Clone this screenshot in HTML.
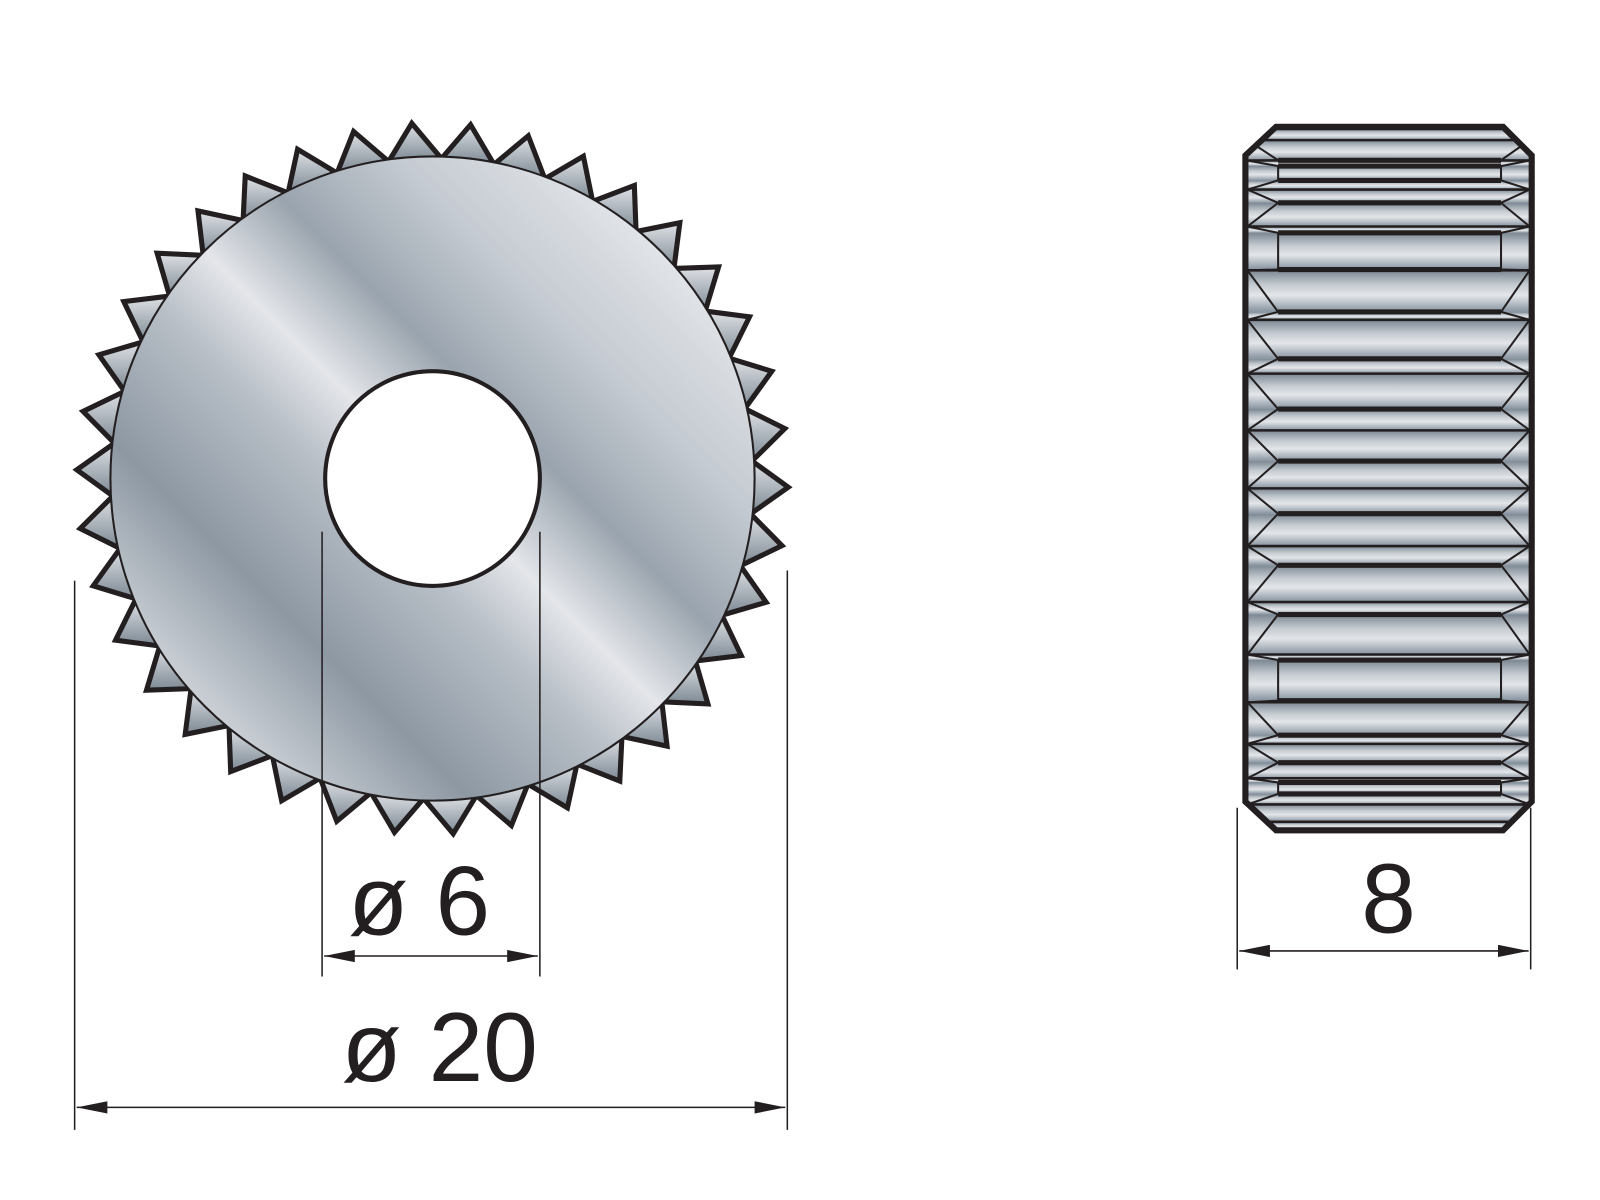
<!DOCTYPE html>
<html><head><meta charset="utf-8"><style>
html,body{margin:0;padding:0;background:#fff;}
svg{display:block}
text{font-family:"Liberation Sans",sans-serif;fill:#231f20}
</style></head><body>
<svg id="s" width="1600" height="1200" viewBox="0 0 1600 1200" xmlns="http://www.w3.org/2000/svg">
<defs>
<linearGradient id="met" x1="0" y1="1" x2="1" y2="0">
<stop offset="0" stop-color="#7f8b96"/>
<stop offset="0.15" stop-color="#c9ced4"/>
<stop offset="0.28" stop-color="#8d98a3"/>
<stop offset="0.42" stop-color="#b7bec6"/>
<stop offset="0.5" stop-color="#e4e6ea"/>
<stop offset="0.6" stop-color="#9aa4ae"/>
<stop offset="0.72" stop-color="#c4cad1"/>
<stop offset="0.85" stop-color="#e0e3e7"/>
<stop offset="1" stop-color="#8a959f"/>
</linearGradient>
<linearGradient id="tooth" x1="0" y1="0" x2="0" y2="1">
<stop offset="0" stop-color="#dfe2e6"/><stop offset="1" stop-color="#7c8893"/>
</linearGradient>
<linearGradient id="band" x1="0" y1="0" x2="0" y2="1">
<stop offset="0" stop-color="#7b8792"/><stop offset="0.35" stop-color="#c5cbd1"/>
<stop offset="0.6" stop-color="#e3e6e9"/><stop offset="1" stop-color="#8793a0"/>
</linearGradient>
<marker id="ar" viewBox="0 0 30 12" refX="30" refY="6" markerWidth="30" markerHeight="12" markerUnits="userSpaceOnUse" orient="auto-start-reverse"><path d="M0,0 L30,6 L0,12 z" fill="#231f20"/></marker>
<clipPath id="oc"><path d="M1248,124 L1470,124 L1498,152 L1498,784 L1470,812 L1248,812 L1218,784 L1218,152 Z"/></clipPath>
</defs>
<g transform="scale(1.0225)">
<g id="gear"></g>
<g id="side" clip-path="url(#oc)"></g>
<path d="M1248,124 L1470,124 L1498,152 L1498,784 L1470,812 L1248,812 L1218,784 L1218,152 Z" fill="none" stroke="#231f20" stroke-width="6"/>
<g stroke="#231f20" stroke-width="1.5" fill="none">
<line x1="315" y1="520" x2="315" y2="955"/>
<line x1="528" y1="520" x2="528" y2="955"/>
<line x1="73" y1="568" x2="73" y2="1105"/>
<line x1="770" y1="558" x2="770" y2="1105"/>
<line x1="1210" y1="790" x2="1210" y2="948"/>
<line x1="1497" y1="790" x2="1497" y2="948"/>
<line x1="317" y1="935" x2="526" y2="935" marker-start="url(#ar)" marker-end="url(#ar)"/>
<line x1="75" y1="1083" x2="768" y2="1083" marker-start="url(#ar)" marker-end="url(#ar)"/>
<line x1="1212" y1="930" x2="1495" y2="930" marker-start="url(#ar)" marker-end="url(#ar)"/>
</g>
<text x="410" y="914" font-size="96" text-anchor="middle">ø 6</text>
<text x="430" y="1057" font-size="96" text-anchor="middle">ø 20</text>
<text x="1358" y="912" font-size="96" text-anchor="middle">8</text>
</g>
</svg>
<script>
var NS="http://www.w3.org/2000/svg";
function el(p,t,a){var e=document.createElementNS(NS,t);for(var k in a)e.setAttribute(k,a[k]);p.appendChild(e);return e;}
var g=document.getElementById('gear');
var cx=423,cy=468,R=315,Rt=348,N=38,P=360/N;
function pt(r,a){var t=a*Math.PI/180;return [cx+r*Math.sin(t),cy-r*Math.cos(t)];}
for(var k=0;k<N;k++){
 var b0=1.6+k*P-P, b1=b0+P, tp=b0+P/2-0.2;
 var A=pt(R-2,b0),B=pt(Rt,tp),C=pt(R-2,b1);
 el(g,'path',{d:'M'+A+' L'+B+' L'+C+' Z',fill:'url(#tooth)',stroke:'#231f20','stroke-width':5,'stroke-linejoin':'miter'});
}
el(g,'circle',{cx:cx,cy:cy,r:R,fill:'url(#met)',stroke:'#231f20','stroke-width':2});
el(g,'circle',{cx:cx,cy:cy,r:105,fill:'#fff',stroke:'#231f20','stroke-width':4});
var s=document.getElementById('side');
var L=1218,Rr=1498,yT=124,yB=812;
el(s,'rect',{x:L,y:yT,width:Rr-L,height:yB-yT,fill:'url(#band)'});
var sc=(yB-yT)/2/Rt;
var ys=[];
for(var k=0;k<2*N;k++){
 var a=1.6+k*P/2;var aa=((a%360)+360)%360;
 if(aa>0&&aa<180){var r=(k%2)?Rt:R;var y=cy-r*sc*Math.cos(aa*Math.PI/180);ys.push([y,k%2]);}
}
ys.sort(function(a,b){return a[0]-b[0]});
for(var i=0;i<ys.length-1;i++){
 el(s,'rect',{x:L,y:ys[i][0],width:Rr-L,height:ys[i+1][0]-ys[i][0],fill:'url(#band)'});
}
var prev=null;
ys.forEach(function(q){
 var y=q[0];
 if(q[1]){el(s,'line',{x1:L,y1:y,x2:Rr,y2:y,stroke:'#231f20','stroke-width':2.5});}
 else{el(s,'line',{x1:1250,y1:y,x2:1468,y2:y,stroke:'#231f20','stroke-width':5});}
 if(prev){
  var xa=prev[1]?L+2:1250,xb=q[1]?L+2:1250;
  el(s,'line',{x1:xa,y1:prev[0],x2:xb,y2:y,stroke:'#231f20','stroke-width':2});
  var xa2=prev[1]?Rr-2:1468,xb2=q[1]?Rr-2:1468;
  el(s,'line',{x1:xa2,y1:prev[0],x2:xb2,y2:y,stroke:'#231f20','stroke-width':2});
 }
 prev=q;
});
</script>
</body></html>
